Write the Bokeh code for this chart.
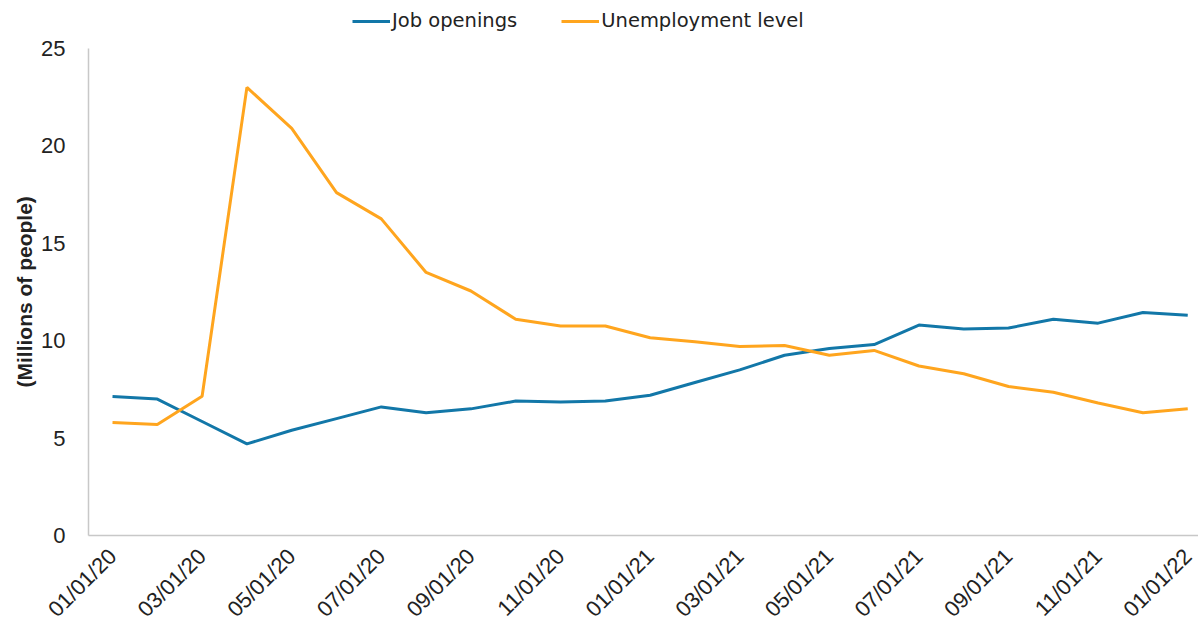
from math import pi
from bokeh.plotting import figure
from bokeh.models import FixedTicker, Legend, LegendItem, Range1d, ColumnDataSource, Title
from bokeh.embed import file_html
from bokeh.resources import INLINE

dates = ["01/01/20", "02/01/20", "03/01/20", "04/01/20", "05/01/20", "06/01/20",
         "07/01/20", "08/01/20", "09/01/20", "10/01/20", "11/01/20", "12/01/20",
         "01/01/21", "02/01/21", "03/01/21", "04/01/21", "05/01/21", "06/01/21",
         "07/01/21", "08/01/21", "09/01/21", "10/01/21", "11/01/21", "12/01/21",
         "01/01/22"]
job_openings = [7.13, 7.0, 5.85, 4.7, 5.4, 6.0, 6.6, 6.3, 6.5, 6.9, 6.85, 6.9,
                7.2, 7.85, 8.5, 9.25, 9.6, 9.8, 10.8, 10.6, 10.65, 11.1, 10.9, 11.45, 11.3]
unemployment = [5.8, 5.7, 7.15, 23.0, 20.9, 17.6, 16.25, 13.5, 12.55, 11.1, 10.75, 10.75,
                10.15, 9.95, 9.7, 9.75, 9.25, 9.5, 8.7, 8.3, 7.65, 7.35, 6.8, 6.3, 6.5]
y_ticks = [0, 5, 10, 15, 20, 25]
y_title = "(Millions of people)"

x = list(range(len(dates)))
src = ColumnDataSource(dict(x=x, jobs=job_openings, unemp=unemployment))

# frame spans the full height above the axis; the y axis line is bounded to 0..25
p = figure(width=1198, height=633, output_backend="svg", toolbar_location=None,
           x_range=Range1d(-0.536, 24.24), y_range=Range1d(0, 27.46),
           min_border_left=88, min_border_right=0, min_border_top=0, min_border_bottom=98)
p.outline_line_color = None
p.grid.visible = False
p.background_fill_color = "white"
p.border_fill_color = "white"

r1 = p.line("x", "jobs", source=src, line_color="#1277A8", line_width=3)
r2 = p.line("x", "unemp", source=src, line_color="#FFA51E", line_width=3)

xa = p.xaxis[0]
xa.ticker = FixedTicker(ticks=list(range(0, len(dates), 2)))
xa.major_label_overrides = {i: dates[i] for i in range(0, len(dates), 2)}
xa.major_label_orientation = pi / 4
xa.major_tick_line_color = None
xa.minor_tick_line_color = None
xa.axis_line_color = "#C8C8C8"
xa.axis_line_width = 1.5
xa.major_label_text_font = "Liberation Sans"
xa.major_label_text_font_size = "22px"
xa.major_label_text_color = "#222222"
xa.major_label_standoff = 11

ya = p.yaxis[0]
ya.ticker = FixedTicker(ticks=y_ticks)
ya.bounds = (0, 25)
ya.major_tick_line_color = None
ya.minor_tick_line_color = None
ya.axis_line_color = "#C8C8C8"
ya.axis_line_width = 1.5
ya.major_label_text_font = "Liberation Sans"
ya.major_label_text_font_size = "22px"
ya.major_label_text_color = "#222222"
ya.major_label_standoff = 17

title = Title(text=y_title, align="left", offset=148, standoff=5,
              text_font="Liberation Sans", text_font_style="bold",
              text_font_size="21px", text_color="#222222")
p.add_layout(title, "left")

legend = Legend(items=[LegendItem(label="Job openings", renderers=[r1]),
                       LegendItem(label="Unemployment level", renderers=[r2])],
                orientation="horizontal", location=(264, 503),
                border_line_color=None, background_fill_alpha=0,
                padding=0, margin=0, spacing=44, glyph_width=38, glyph_height=20,
                label_standoff=2, label_text_font="DejaVu Sans",
                label_text_font_size="19.5px", label_text_color="#222222")
p.add_layout(legend, "center")

open("out.html", "w").write(file_html(p, INLINE))
